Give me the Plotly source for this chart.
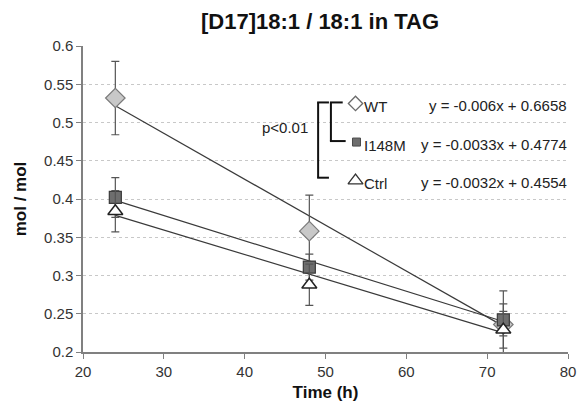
import plotly.graph_objects as go

# ---- data ----
time_h = [24, 48, 72]
wt = [0.532, 0.358, 0.236]
wt_err = [0.048, 0.047, 0.044]
i148m = [0.402, 0.311, 0.242]
i148m_err = [0.026, 0.017, 0.021]
ctrl = [0.384, 0.288, 0.229]
ctrl_err = [0.027, 0.027, 0.024]

series_names = ["WT", "I148M", "Ctrl"]
slopes = [-0.006, -0.0033, -0.0032]
intercepts = [0.6658, 0.4774, 0.4554]
equations = ["y = -0.006x + 0.6658", "y = -0.0033x + 0.4774", "y = -0.0032x + 0.4554"]

x_ticks = [20, 30, 40, 50, 60, 70, 80]
y_ticks = [0.2, 0.25, 0.3, 0.35, 0.4, 0.45, 0.5, 0.55, 0.6]
y_tick_text = ["0.2", "0.25", "0.3", "0.35", "0.4", "0.45", "0.5", "0.55", "0.6"]

# ---- layout geometry (pixels) ----
W, H = 585, 408
L, R, T, B = 83, 9, 46, 53
PW, PH = W - L - R, H - T - B
XR, YR = (20, 80), (0.2, 0.6)

def px2x(px):
    return XR[0] + (px - L) / PW * (XR[1] - XR[0])

def py2y(py):
    return YR[1] - (py - T) / PH * (YR[1] - YR[0])

def pxp(px):
    return (px - L) / PW

def pyp(py):
    return 1 - (py - T) / PH

FONT = "Liberation Sans, Arial, sans-serif"
LINE = "#3a3a3a"
TXT = 15

fig = go.Figure()

# trendlines
xs = [min(time_h), max(time_h)]
for m, c in zip(slopes, intercepts):
    fig.add_trace(go.Scatter(x=xs, y=[m * v + c for v in xs], mode="lines",
                             line=dict(color=LINE, width=1.2), showlegend=False,
                             hoverinfo="skip"))

styles = [
    dict(symbol="diamond", size=15, color="#c8c8c8", line=dict(color="#7a7a7a", width=1.2)),
    dict(symbol="square", size=12, color="#6e6e6e", line=dict(color="#3a3a3a", width=1.2)),
    dict(symbol="triangle-up", size=13, color="#ffffff", line=dict(color="#222222", width=1.5)),
]
vals = [wt, i148m, ctrl]
errs = [wt_err, i148m_err, ctrl_err]
for name, v, e, st in zip(series_names, vals, errs, styles):
    fig.add_trace(go.Scatter(x=time_h, y=v, mode="markers", name=name,
                             marker=st, showlegend=False,
                             error_y=dict(type="data", array=e, visible=True,
                                          color="#555555", thickness=1.2, width=4)))

# legend-like glyphs inside the plot
leg_styles = [
    dict(symbol="diamond", size=11, color="#ffffff", line=dict(color="#6a6a6a", width=1.3)),
    dict(symbol="square", size=8, color="#6e6e6e", line=dict(color="#4a4a4a", width=1)),
    dict(symbol="triangle-up", size=13, color="#ffffff", line=dict(color="#333333", width=1.3)),
]
leg_rows_py = [104, 143, 182]
leg_marker_px = [360, 361, 360]
for st, px, py in zip(leg_styles, leg_marker_px, leg_rows_py):
    fig.add_trace(go.Scatter(x=[px2x(px)], y=[py2y(py)], mode="markers", marker=st,
                             showlegend=False, hoverinfo="skip", cliponaxis=False))

annotations = []
for name, eq, py in zip(series_names, equations, leg_rows_py):
    annotations.append(dict(x=pxp(367), y=pyp(py + 3), xref="paper", yref="paper",
                            text=name, showarrow=False, xanchor="left", yanchor="middle",
                            font=dict(family=FONT, size=TXT, color="#222222")))
    annotations.append(dict(x=pxp(577), y=pyp(py + 2), xref="paper", yref="paper",
                            text=eq, showarrow=False, xanchor="right", yanchor="middle",
                            font=dict(family=FONT, size=TXT, color="#222222")))
annotations.append(dict(x=pxp(314), y=pyp(128), xref="paper", yref="paper",
                        text="p<0.01", showarrow=False, xanchor="right", yanchor="middle",
                        font=dict(family=FONT, size=TXT, color="#222222")))

shapes = []
def seg(x0, y0, x1, y1):
    shapes.append(dict(type="line", xref="paper", yref="paper",
                       x0=pxp(x0), y0=pyp(y0), x1=pxp(x1), y1=pyp(y1),
                       line=dict(color="#111111", width=2)))
# outer bracket
seg(322, 103, 322, 179)
seg(321, 103, 333, 103)
seg(321, 179, 333, 179)
# inner bracket
seg(335, 103, 335, 142)
seg(334, 103, 347, 103)
seg(334, 142, 350, 142)

fig.update_layout(
    width=W, height=H,
    margin=dict(l=L, r=R, t=T, b=B),
    paper_bgcolor="white", plot_bgcolor="white",
    title=dict(text="<b>[D17]18:1 / 18:1 in TAG</b>", x=320 / W,
               xanchor="center", y=1 - 21 / H, yanchor="middle",
               font=dict(family=FONT, size=22, color="#111111")),
    xaxis=dict(range=list(XR), tickvals=x_ticks, ticks="outside", ticklen=5,
               tickcolor="#808080", showline=True, linecolor="#808080", linewidth=1.5,
               showgrid=False, zeroline=False,
               tickfont=dict(family=FONT, size=TXT, color="#333333"),
               title=dict(text="<b>Time (h)</b>", standoff=7,
                          font=dict(family=FONT, size=17, color="#111111"))),
    yaxis=dict(range=list(YR), tickvals=y_ticks, ticktext=y_tick_text, ticks="outside",
               ticklen=5, tickcolor="#808080", showline=True, linecolor="#808080",
               linewidth=1.5, showgrid=True, gridcolor="#c8c8c8", griddash="dot",
               gridwidth=1, zeroline=False,
               tickfont=dict(family=FONT, size=TXT, color="#333333"),
               title=dict(text="<b>mol / mol</b>", standoff=13,
                          font=dict(family=FONT, size=17, color="#111111"))),
    annotations=annotations,
    shapes=shapes,
    showlegend=False,
)

fig.write_html("out.html", config={"displayModeBar": False},
               post_script="document.body.style.margin='0';")
